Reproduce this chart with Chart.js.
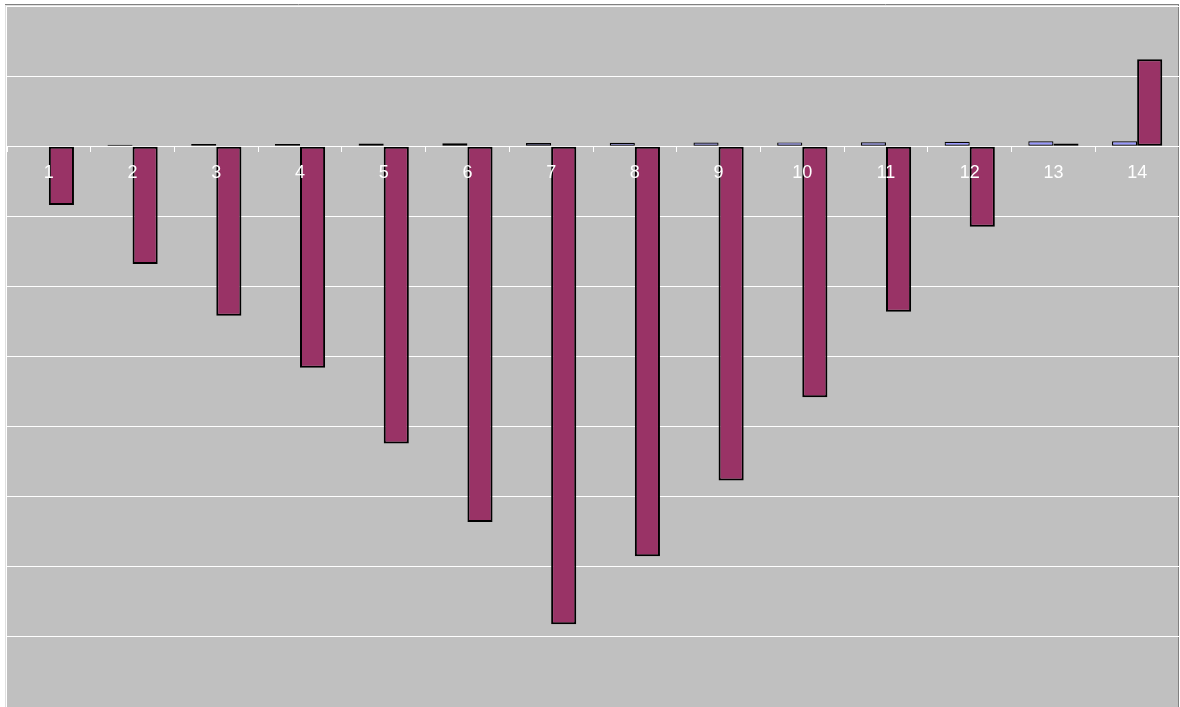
<!DOCTYPE html>
<html lang="en">
<head>
  <meta charset="UTF-8">
  <title>Bar chart</title>
  <script src="https://cdn.jsdelivr.net/npm/chart.js"></script>
  <style>
    html, body { margin: 0; padding: 0; background: #ffffff; }
    #wrap { width: 1180px; height: 707px; position: relative; }
  </style>
</head>
<body>
  <div id="wrap">
    <canvas id="bar-chart"></canvas>
  </div>

  <script>
    // categories along the x axis
    const categories = ['1', '2', '3', '4', '5', '6', '7', '8', '9', '10', '11', '12', '13', '14'];

    // small blue series
    const seriesA = [0.007, 0.02, 0.03, 0.033, 0.037, 0.043, 0.046, 0.049, 0.051, 0.054, 0.057, 0.064, 0.071, 0.071];

    // maroon series
    const seriesB = [-0.84, -1.68, -2.42, -3.16, -4.24, -5.36, -6.82, -5.85, -4.77, -3.58, -2.36, -1.15, 0.04, 1.24];

    // value axis range
    const yMin = -8;
    const yMax = 2;

    // plot area background + frame
    const plotBackground = {
      id: 'plotBackground',
      beforeDraw(chart) {
        const { ctx, chartArea: a } = chart;
        ctx.save();
        ctx.fillStyle = '#c0c0c0';
        ctx.fillRect(a.left, a.top, a.right - a.left, a.bottom - a.top);
        ctx.lineWidth = 1;
        ctx.strokeStyle = '#808080';
        ctx.beginPath();
        ctx.moveTo(a.left - 2, a.top - 1.5);
        ctx.lineTo(a.right, a.top - 1.5);
        ctx.moveTo(a.right - 0.5, a.top - 1.5);
        ctx.lineTo(a.right - 0.5, a.bottom);
        ctx.stroke();
        ctx.strokeStyle = '#e0e0e0';
        ctx.beginPath();
        ctx.moveTo(a.left - 1.5, a.top - 1);
        ctx.lineTo(a.left - 1.5, a.bottom);
        ctx.moveTo(a.left - 1, a.top - 0.5);
        ctx.lineTo(a.right - 1, a.top - 0.5);
        ctx.stroke();
        ctx.restore();
      }
    };

    const ctx = document.getElementById('bar-chart').getContext('2d');

    new Chart(ctx, {
      type: 'bar',
      data: {
        labels: categories,
        datasets: [
          {
            label: 'Serie 1',
            data: seriesA,
            backgroundColor: '#9999ff',
            borderColor: '#000000',
            borderWidth: 1.2,
            borderSkipped: false,
            categoryPercentage: 0.6,
            barPercentage: 1
          },
          {
            label: 'Serie 2',
            data: seriesB,
            backgroundColor: '#993366',
            borderColor: '#000000',
            borderWidth: 2,
            borderSkipped: false,
            categoryPercentage: 0.6,
            barPercentage: 1
          }
        ]
      },
      options: {
        responsive: true,
        maintainAspectRatio: false,
        animation: false,
        layout: {
          padding: { left: 7, top: 6, right: 1, bottom: 0 }
        },
        scales: {
          x: {
            type: 'category',
            position: { y: 0 },
            afterFit: (scale) => { scale.height = 0; },
            grid: {
              display: true,
              drawOnChartArea: false,
              drawTicks: true,
              tickLength: 5,
              color: '#ffffff',
              offset: true
            },
            border: { display: true, color: '#ffffff', width: 1 },
            ticks: {
              z: 1, // labels sit on top of the bars
              color: '#ffffff',
              padding: 11,
              maxRotation: 0,
              autoSkip: false,
              font: { family: '"Liberation Sans", Arial, sans-serif', size: 18 }
            }
          },
          y: {
            min: yMin,
            max: yMax,
            afterFit: (scale) => { scale.width = 0; },
            grid: {
              color: '#ffffff',
              lineWidth: 1,
              drawTicks: false
            },
            border: { display: false },
            ticks: { display: false, stepSize: 1 }
          }
        },
        plugins: {
          legend: { display: false },
          tooltip: { enabled: false }
        }
      },
      plugins: [plotBackground]
    });
  </script>
</body>
</html>
